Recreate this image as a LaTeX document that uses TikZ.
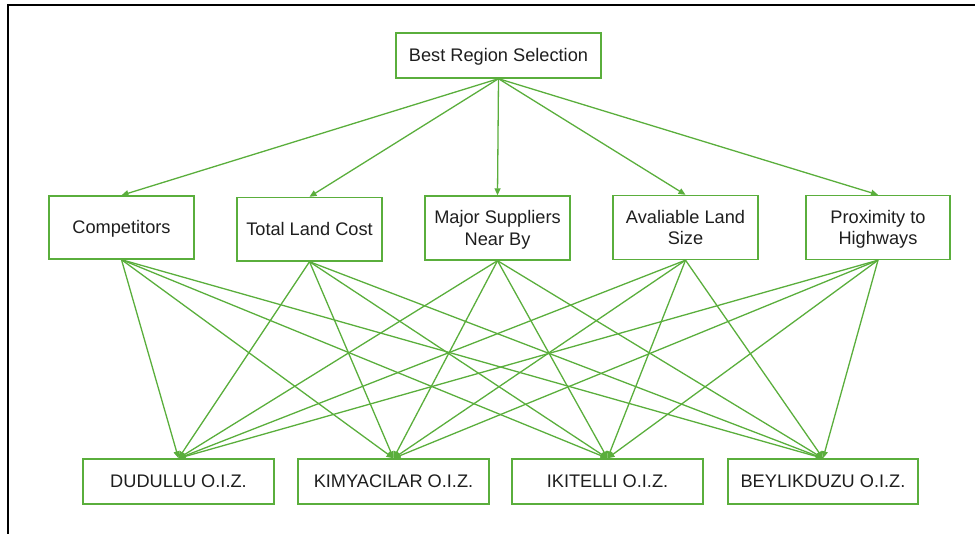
\documentclass[tikz,border=0pt]{standalone}
\usepackage{fontspec}
\setmainfont{Liberation Sans}
\usetikzlibrary{arrows.meta}
\definecolor{grn}{RGB}{90,174,60}
\definecolor{txt}{RGB}{30,30,30}
\begin{document}
\begin{tikzpicture}[x=1pt,y=-1pt,
  box/.style={draw=grn,line width=1.4pt,rectangle,inner sep=0pt,align=center,
    text=txt,font=\fontsize{18.2}{21.5}\selectfont,text height=13pt,text depth=0pt},
  twoline/.style={text height=34.5pt,text depth=0pt},
  conn/.style={draw=grn,line width=1.3pt,-{Triangle[length=7pt,width=6pt]}}]
\useasboundingbox (0,0) rectangle (975,534);
\draw[line width=1.5pt,black] (8,534) -- (8,5) -- (975,5);
\node[box,minimum width=205pt,minimum height=45pt] (top) at (498.5,55.5) {Best Region Selection};
\node[box,minimum width=145pt,minimum height=63pt] (c1) at (121.5,227.5) {Competitors};
\node[box,minimum width=145pt,minimum height=63.5pt] (c2) at (309.5,229.25) {Total Land Cost};
\node[box,twoline,minimum width=145pt,minimum height=64pt] (c3) at (497.5,228) {Major Suppliers\\Near By};
\node[box,twoline,minimum width=145pt,minimum height=64pt] (c4) at (685.5,227.5) {Avaliable Land\\Size};
\node[box,twoline,minimum width=144pt,minimum height=64pt] (c5) at (878,227.5) {Proximity to\\Highways};
\node[box,minimum width=191pt,minimum height=45pt] (a1) at (178.5,481.5) {DUDULLU O.I.Z.};
\node[box,minimum width=191pt,minimum height=45pt] (a2) at (393.5,481.5) {KIMYACILAR O.I.Z.};
\node[box,minimum width=191pt,minimum height=45pt] (a3) at (607.5,481.5) {IKITELLI O.I.Z.};
\node[box,minimum width=190pt,minimum height=45pt] (a4) at (823,481.5) {BEYLIKDUZU O.I.Z.};
\foreach \c in {c1,c2,c3,c4,c5} {
  \draw[conn] (top.south) -- (\c.north);
  \foreach \a in {a1,a2,a3,a4} {
    \draw[conn] (\c.south) -- (\a.north);
  }
}
\end{tikzpicture}
\end{document}
